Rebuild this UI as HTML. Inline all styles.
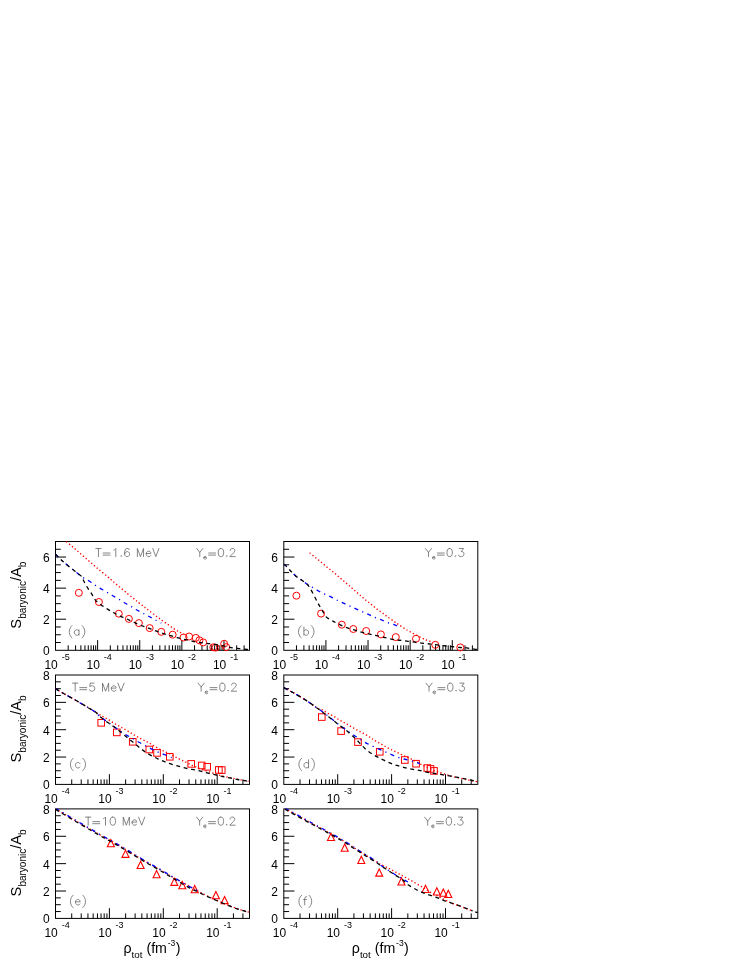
<!DOCTYPE html>
<html><head><meta charset="utf-8"><title>figure</title>
<style>html,body{margin:0;padding:0;background:#fff;}svg{will-change:transform;}svg text{font-family:"Liberation Sans",sans-serif;fill:#000;}</style></head>
<body>
<svg width="747" height="967" viewBox="0 0 747 967" style="display:block">
<rect width="747" height="967" fill="#fff"/>
<path d="M55.50 642.53h5.30M55.50 634.76h5.30M55.50 626.99h5.30M55.50 619.21h10.60M55.50 611.44h5.30M55.50 603.67h5.30M55.50 595.90h5.30M55.50 588.13h10.60M55.50 580.36h5.30M55.50 572.59h5.30M55.50 564.81h5.30M55.50 557.04h10.60M55.50 549.27h5.30M68.18 650.30v-5.00M75.60 650.30v-5.00M80.86 650.30v-5.00M84.94 650.30v-5.00M88.28 650.30v-5.00M91.10 650.30v-5.00M93.54 650.30v-5.00M95.69 650.30v-5.00M97.62 650.30v-10.20M110.30 650.30v-5.00M117.72 650.30v-5.00M122.98 650.30v-5.00M127.06 650.30v-5.00M130.40 650.30v-5.00M133.22 650.30v-5.00M135.66 650.30v-5.00M137.81 650.30v-5.00M139.74 650.30v-10.20M152.42 650.30v-5.00M159.84 650.30v-5.00M165.10 650.30v-5.00M169.18 650.30v-5.00M172.52 650.30v-5.00M175.34 650.30v-5.00M177.78 650.30v-5.00M179.93 650.30v-5.00M181.86 650.30v-10.20M194.54 650.30v-5.00M201.96 650.30v-5.00M207.22 650.30v-5.00M211.30 650.30v-5.00M214.64 650.30v-5.00M217.46 650.30v-5.00M219.90 650.30v-5.00M222.05 650.30v-5.00M223.98 650.30v-10.20M236.66 650.30v-5.00M244.08 650.30v-5.00" stroke="#000" stroke-width="1" fill="none"/><rect x="55.50" y="541.50" width="194.00" height="108.80" fill="none" stroke="#000" stroke-width="1"/>
<text x="49.60" y="655.30" text-anchor="end" font-size="12">0</text><text x="49.60" y="624.21" text-anchor="end" font-size="12">2</text><text x="49.60" y="593.13" text-anchor="end" font-size="12">4</text><text x="49.60" y="562.04" text-anchor="end" font-size="12">6</text><text x="57.80" y="669.00" text-anchor="end" font-size="12">10</text><text x="61.70" y="659.80" font-size="9">-5</text><text x="99.92" y="669.00" text-anchor="end" font-size="12">10</text><text x="103.82" y="659.80" font-size="9">-4</text><text x="142.04" y="669.00" text-anchor="end" font-size="12">10</text><text x="145.94" y="659.80" font-size="9">-3</text><text x="184.16" y="669.00" text-anchor="end" font-size="12">10</text><text x="188.06" y="659.80" font-size="9">-2</text><text x="226.28" y="669.00" text-anchor="end" font-size="12">10</text><text x="230.18" y="659.80" font-size="9">-1</text>
<path d="M283.80 642.53h5.30M283.80 634.76h5.30M283.80 626.99h5.30M283.80 619.21h10.60M283.80 611.44h5.30M283.80 603.67h5.30M283.80 595.90h5.30M283.80 588.13h10.60M283.80 580.36h5.30M283.80 572.59h5.30M283.80 564.81h5.30M283.80 557.04h10.60M283.80 549.27h5.30M296.48 650.30v-5.00M303.90 650.30v-5.00M309.16 650.30v-5.00M313.24 650.30v-5.00M316.58 650.30v-5.00M319.40 650.30v-5.00M321.84 650.30v-5.00M323.99 650.30v-5.00M325.92 650.30v-10.20M338.60 650.30v-5.00M346.02 650.30v-5.00M351.28 650.30v-5.00M355.36 650.30v-5.00M358.70 650.30v-5.00M361.52 650.30v-5.00M363.96 650.30v-5.00M366.11 650.30v-5.00M368.04 650.30v-10.20M380.72 650.30v-5.00M388.14 650.30v-5.00M393.40 650.30v-5.00M397.48 650.30v-5.00M400.82 650.30v-5.00M403.64 650.30v-5.00M406.08 650.30v-5.00M408.23 650.30v-5.00M410.16 650.30v-10.20M422.84 650.30v-5.00M430.26 650.30v-5.00M435.52 650.30v-5.00M439.60 650.30v-5.00M442.94 650.30v-5.00M445.76 650.30v-5.00M448.20 650.30v-5.00M450.35 650.30v-5.00M452.28 650.30v-10.20M464.96 650.30v-5.00M472.38 650.30v-5.00" stroke="#000" stroke-width="1" fill="none"/><rect x="283.80" y="541.50" width="194.00" height="108.80" fill="none" stroke="#000" stroke-width="1"/>
<text x="277.90" y="655.30" text-anchor="end" font-size="12">0</text><text x="277.90" y="624.21" text-anchor="end" font-size="12">2</text><text x="277.90" y="593.13" text-anchor="end" font-size="12">4</text><text x="277.90" y="562.04" text-anchor="end" font-size="12">6</text><text x="286.10" y="669.00" text-anchor="end" font-size="12">10</text><text x="290.00" y="659.80" font-size="9">-5</text><text x="328.22" y="669.00" text-anchor="end" font-size="12">10</text><text x="332.12" y="659.80" font-size="9">-4</text><text x="370.34" y="669.00" text-anchor="end" font-size="12">10</text><text x="374.24" y="659.80" font-size="9">-3</text><text x="412.46" y="669.00" text-anchor="end" font-size="12">10</text><text x="416.36" y="659.80" font-size="9">-2</text><text x="454.58" y="669.00" text-anchor="end" font-size="12">10</text><text x="458.48" y="659.80" font-size="9">-1</text>
<path d="M55.50 777.56h5.30M55.50 770.73h5.30M55.50 763.89h5.30M55.50 757.05h10.60M55.50 750.21h5.30M55.50 743.38h5.30M55.50 736.54h5.30M55.50 729.70h10.60M55.50 722.86h5.30M55.50 716.02h5.30M55.50 709.19h5.30M55.50 702.35h10.60M55.50 695.51h5.30M55.50 688.67h5.30M55.50 681.84h5.30M71.73 784.40v-5.00M81.22 784.40v-5.00M87.95 784.40v-5.00M93.17 784.40v-5.00M97.44 784.40v-5.00M101.05 784.40v-5.00M104.18 784.40v-5.00M106.93 784.40v-5.00M109.40 784.40v-10.20M125.63 784.40v-5.00M135.12 784.40v-5.00M141.85 784.40v-5.00M147.07 784.40v-5.00M151.34 784.40v-5.00M154.95 784.40v-5.00M158.08 784.40v-5.00M160.83 784.40v-5.00M163.30 784.40v-10.20M179.53 784.40v-5.00M189.02 784.40v-5.00M195.75 784.40v-5.00M200.97 784.40v-5.00M205.24 784.40v-5.00M208.85 784.40v-5.00M211.98 784.40v-5.00M214.73 784.40v-5.00M217.20 784.40v-10.20M233.43 784.40v-5.00M242.92 784.40v-5.00" stroke="#000" stroke-width="1" fill="none"/><rect x="55.50" y="675.00" width="194.00" height="109.40" fill="none" stroke="#000" stroke-width="1"/>
<text x="49.60" y="789.40" text-anchor="end" font-size="12">0</text><text x="49.60" y="762.05" text-anchor="end" font-size="12">2</text><text x="49.60" y="734.70" text-anchor="end" font-size="12">4</text><text x="49.60" y="707.35" text-anchor="end" font-size="12">6</text><text x="49.60" y="680.00" text-anchor="end" font-size="12">8</text><text x="57.80" y="803.10" text-anchor="end" font-size="12">10</text><text x="61.70" y="793.90" font-size="9">-4</text><text x="111.70" y="803.10" text-anchor="end" font-size="12">10</text><text x="115.60" y="793.90" font-size="9">-3</text><text x="165.60" y="803.10" text-anchor="end" font-size="12">10</text><text x="169.50" y="793.90" font-size="9">-2</text><text x="219.50" y="803.10" text-anchor="end" font-size="12">10</text><text x="223.40" y="793.90" font-size="9">-1</text>
<path d="M283.80 777.56h5.30M283.80 770.73h5.30M283.80 763.89h5.30M283.80 757.05h10.60M283.80 750.21h5.30M283.80 743.38h5.30M283.80 736.54h5.30M283.80 729.70h10.60M283.80 722.86h5.30M283.80 716.02h5.30M283.80 709.19h5.30M283.80 702.35h10.60M283.80 695.51h5.30M283.80 688.67h5.30M283.80 681.84h5.30M300.03 784.40v-5.00M309.52 784.40v-5.00M316.25 784.40v-5.00M321.47 784.40v-5.00M325.74 784.40v-5.00M329.35 784.40v-5.00M332.48 784.40v-5.00M335.23 784.40v-5.00M337.70 784.40v-10.20M353.93 784.40v-5.00M363.42 784.40v-5.00M370.15 784.40v-5.00M375.37 784.40v-5.00M379.64 784.40v-5.00M383.25 784.40v-5.00M386.38 784.40v-5.00M389.13 784.40v-5.00M391.60 784.40v-10.20M407.83 784.40v-5.00M417.32 784.40v-5.00M424.05 784.40v-5.00M429.27 784.40v-5.00M433.54 784.40v-5.00M437.15 784.40v-5.00M440.28 784.40v-5.00M443.03 784.40v-5.00M445.50 784.40v-10.20M461.73 784.40v-5.00M471.22 784.40v-5.00" stroke="#000" stroke-width="1" fill="none"/><rect x="283.80" y="675.00" width="194.00" height="109.40" fill="none" stroke="#000" stroke-width="1"/>
<text x="277.90" y="789.40" text-anchor="end" font-size="12">0</text><text x="277.90" y="762.05" text-anchor="end" font-size="12">2</text><text x="277.90" y="734.70" text-anchor="end" font-size="12">4</text><text x="277.90" y="707.35" text-anchor="end" font-size="12">6</text><text x="277.90" y="680.00" text-anchor="end" font-size="12">8</text><text x="286.10" y="803.10" text-anchor="end" font-size="12">10</text><text x="290.00" y="793.90" font-size="9">-4</text><text x="340.00" y="803.10" text-anchor="end" font-size="12">10</text><text x="343.90" y="793.90" font-size="9">-3</text><text x="393.90" y="803.10" text-anchor="end" font-size="12">10</text><text x="397.80" y="793.90" font-size="9">-2</text><text x="447.80" y="803.10" text-anchor="end" font-size="12">10</text><text x="451.70" y="793.90" font-size="9">-1</text>
<path d="M55.50 911.56h5.30M55.50 904.71h5.30M55.50 897.87h5.30M55.50 891.02h10.60M55.50 884.18h5.30M55.50 877.34h5.30M55.50 870.49h5.30M55.50 863.65h10.60M55.50 856.81h5.30M55.50 849.96h5.30M55.50 843.12h5.30M55.50 836.27h10.60M55.50 829.43h5.30M55.50 822.59h5.30M55.50 815.74h5.30M71.73 918.40v-5.00M81.22 918.40v-5.00M87.95 918.40v-5.00M93.17 918.40v-5.00M97.44 918.40v-5.00M101.05 918.40v-5.00M104.18 918.40v-5.00M106.93 918.40v-5.00M109.40 918.40v-10.20M125.63 918.40v-5.00M135.12 918.40v-5.00M141.85 918.40v-5.00M147.07 918.40v-5.00M151.34 918.40v-5.00M154.95 918.40v-5.00M158.08 918.40v-5.00M160.83 918.40v-5.00M163.30 918.40v-10.20M179.53 918.40v-5.00M189.02 918.40v-5.00M195.75 918.40v-5.00M200.97 918.40v-5.00M205.24 918.40v-5.00M208.85 918.40v-5.00M211.98 918.40v-5.00M214.73 918.40v-5.00M217.20 918.40v-10.20M233.43 918.40v-5.00M242.92 918.40v-5.00" stroke="#000" stroke-width="1" fill="none"/><rect x="55.50" y="808.90" width="194.00" height="109.50" fill="none" stroke="#000" stroke-width="1"/>
<text x="49.60" y="923.40" text-anchor="end" font-size="12">0</text><text x="49.60" y="896.02" text-anchor="end" font-size="12">2</text><text x="49.60" y="868.65" text-anchor="end" font-size="12">4</text><text x="49.60" y="841.27" text-anchor="end" font-size="12">6</text><text x="49.60" y="813.90" text-anchor="end" font-size="12">8</text><text x="57.80" y="937.10" text-anchor="end" font-size="12">10</text><text x="61.70" y="927.90" font-size="9">-4</text><text x="111.70" y="937.10" text-anchor="end" font-size="12">10</text><text x="115.60" y="927.90" font-size="9">-3</text><text x="165.60" y="937.10" text-anchor="end" font-size="12">10</text><text x="169.50" y="927.90" font-size="9">-2</text><text x="219.50" y="937.10" text-anchor="end" font-size="12">10</text><text x="223.40" y="927.90" font-size="9">-1</text>
<path d="M283.80 911.56h5.30M283.80 904.71h5.30M283.80 897.87h5.30M283.80 891.02h10.60M283.80 884.18h5.30M283.80 877.34h5.30M283.80 870.49h5.30M283.80 863.65h10.60M283.80 856.81h5.30M283.80 849.96h5.30M283.80 843.12h5.30M283.80 836.27h10.60M283.80 829.43h5.30M283.80 822.59h5.30M283.80 815.74h5.30M300.03 918.40v-5.00M309.52 918.40v-5.00M316.25 918.40v-5.00M321.47 918.40v-5.00M325.74 918.40v-5.00M329.35 918.40v-5.00M332.48 918.40v-5.00M335.23 918.40v-5.00M337.70 918.40v-10.20M353.93 918.40v-5.00M363.42 918.40v-5.00M370.15 918.40v-5.00M375.37 918.40v-5.00M379.64 918.40v-5.00M383.25 918.40v-5.00M386.38 918.40v-5.00M389.13 918.40v-5.00M391.60 918.40v-10.20M407.83 918.40v-5.00M417.32 918.40v-5.00M424.05 918.40v-5.00M429.27 918.40v-5.00M433.54 918.40v-5.00M437.15 918.40v-5.00M440.28 918.40v-5.00M443.03 918.40v-5.00M445.50 918.40v-10.20M461.73 918.40v-5.00M471.22 918.40v-5.00" stroke="#000" stroke-width="1" fill="none"/><rect x="283.80" y="808.90" width="194.00" height="109.50" fill="none" stroke="#000" stroke-width="1"/>
<text x="277.90" y="923.40" text-anchor="end" font-size="12">0</text><text x="277.90" y="896.02" text-anchor="end" font-size="12">2</text><text x="277.90" y="868.65" text-anchor="end" font-size="12">4</text><text x="277.90" y="841.27" text-anchor="end" font-size="12">6</text><text x="277.90" y="813.90" text-anchor="end" font-size="12">8</text><text x="286.10" y="937.10" text-anchor="end" font-size="12">10</text><text x="290.00" y="927.90" font-size="9">-4</text><text x="340.00" y="937.10" text-anchor="end" font-size="12">10</text><text x="343.90" y="927.90" font-size="9">-3</text><text x="393.90" y="937.10" text-anchor="end" font-size="12">10</text><text x="397.80" y="927.90" font-size="9">-2</text><text x="447.80" y="937.10" text-anchor="end" font-size="12">10</text><text x="451.70" y="927.90" font-size="9">-1</text>
<text transform="translate(21.4 595.10) rotate(-90)" text-anchor="middle" font-size="14.7">S<tspan font-size="10.0" dy="4.4">baryonic</tspan><tspan dy="-4.4">/A</tspan><tspan font-size="10.0" dy="4.4">b</tspan></text>
<text transform="translate(21.4 728.90) rotate(-90)" text-anchor="middle" font-size="14.7">S<tspan font-size="10.0" dy="4.4">baryonic</tspan><tspan dy="-4.4">/A</tspan><tspan font-size="10.0" dy="4.4">b</tspan></text>
<text transform="translate(21.4 862.85) rotate(-90)" text-anchor="middle" font-size="14.7">S<tspan font-size="10.0" dy="4.4">baryonic</tspan><tspan dy="-4.4">/A</tspan><tspan font-size="10.0" dy="4.4">b</tspan></text>
<text x="123.50" y="953.4" font-size="14.2">&#961;<tspan font-size="9.8" dy="4.8">tot</tspan><tspan dy="-4.8"> (fm</tspan><tspan font-size="8.6" dy="-7.4" dx="0.8">-3</tspan><tspan dy="7.4" dx="0.4">)</tspan></text>
<text x="351.80" y="953.4" font-size="14.2">&#961;<tspan font-size="9.8" dy="4.8">tot</tspan><tspan dy="-4.8"> (fm</tspan><tspan font-size="8.6" dy="-7.4" dx="0.8">-3</tspan><tspan dy="7.4" dx="0.4">)</tspan></text>
<defs><clipPath id="cpa"><rect x="55.50" y="541.00" width="194.00" height="109.80"/></clipPath><clipPath id="cpb"><rect x="283.80" y="541.00" width="194.00" height="109.80"/></clipPath><clipPath id="cpc"><rect x="55.50" y="674.50" width="194.00" height="110.40"/></clipPath><clipPath id="cpd"><rect x="283.80" y="674.50" width="194.00" height="110.40"/></clipPath><clipPath id="cpe"><rect x="55.50" y="808.40" width="194.00" height="110.50"/></clipPath><clipPath id="cpf"><rect x="283.80" y="808.40" width="194.00" height="110.50"/></clipPath></defs>
<g fill="none" stroke="#ff0000" stroke-width="1"><circle cx="78.84" cy="592.84" r="3.50"/><circle cx="98.90" cy="602.00" r="3.50"/><circle cx="118.80" cy="613.70" r="3.50"/><circle cx="128.90" cy="618.90" r="3.50"/><circle cx="138.90" cy="623.10" r="3.50"/><circle cx="149.70" cy="628.10" r="3.50"/><circle cx="161.30" cy="631.85" r="3.50"/><circle cx="172.65" cy="634.70" r="3.50"/><circle cx="183.50" cy="637.50" r="3.50"/><circle cx="189.10" cy="636.50" r="3.50"/><circle cx="195.80" cy="637.90" r="3.50"/><circle cx="199.40" cy="640.30" r="3.50"/><circle cx="203.20" cy="642.40" r="3.50"/><circle cx="213.30" cy="647.30" r="3.50"/><circle cx="215.60" cy="647.60" r="3.50"/><circle cx="224.15" cy="643.75" r="3.50"/><circle cx="226.20" cy="647.15" r="3.50"/></g>
<g clip-path="url(#cpa)">
<path d="M66.30 541.60 C67.67 542.73 71.73 546.03 74.50 548.40 C77.27 550.77 80.08 553.35 82.90 555.80 C85.72 558.25 88.65 560.73 91.40 563.10 C94.15 565.47 96.60 567.65 99.40 570.00 C102.20 572.35 105.82 575.20 108.20 577.20 C110.58 579.20 110.47 579.25 113.70 582.00 C116.93 584.75 123.43 590.27 127.60 593.70 C131.77 597.13 135.37 599.97 138.70 602.60 C142.03 605.23 144.65 607.23 147.60 609.50 C150.55 611.77 154.00 614.38 156.40 616.20 C158.80 618.02 159.98 618.95 162.00 620.40 C164.02 621.85 166.48 623.48 168.50 624.90 C170.52 626.32 172.23 627.70 174.10 628.90 C175.97 630.10 178.07 631.22 179.70 632.10 C181.33 632.98 183.20 633.85 183.90 634.20" fill="none" stroke="#ff0000" stroke-width="1.35" stroke-dasharray="1.3 2.34"/>
<path d="M55.40 554.10 C56.30 555.00 59.08 557.90 60.80 559.50 C62.52 561.10 63.95 562.22 65.70 563.70 C67.45 565.18 69.43 566.90 71.30 568.40 C73.17 569.90 75.10 571.27 76.90 572.70 C78.70 574.13 80.22 575.72 82.10 577.00 C83.98 578.28 86.22 579.15 88.20 580.40 C90.18 581.65 92.05 583.22 94.00 584.50 C95.95 585.78 97.92 586.93 99.90 588.10 C101.88 589.27 103.90 590.30 105.90 591.50 C107.90 592.70 109.90 594.12 111.90 595.30 C113.90 596.48 115.88 597.40 117.90 598.60 C119.92 599.80 122.00 601.30 124.00 602.50 C126.00 603.70 127.92 604.63 129.90 605.80 C131.88 606.97 133.90 608.35 135.90 609.50 C137.90 610.65 139.88 611.63 141.90 612.70 C143.92 613.77 145.93 614.80 148.00 615.90 C150.07 617.00 152.08 618.10 154.30 619.30 C156.52 620.50 160.13 622.47 161.30 623.10" fill="none" stroke="#0000ff" stroke-width="1.30" stroke-dasharray="4.1 4.35 1.2 4.35"/>
<path d="M55.40 554.10 C56.30 555.00 59.08 557.90 60.80 559.50 C62.52 561.10 63.95 562.22 65.70 563.70 C67.45 565.18 69.43 566.90 71.30 568.40 C73.17 569.90 75.10 571.27 76.90 572.70 C78.70 574.13 80.90 575.48 82.10 577.00 C83.30 578.52 83.15 579.95 84.10 581.80 C85.05 583.65 86.52 586.05 87.80 588.10 C89.08 590.15 90.53 592.10 91.80 594.10 C93.07 596.10 93.85 598.30 95.40 600.10 C96.95 601.90 99.08 603.40 101.10 604.90 C103.12 606.40 105.45 607.83 107.50 609.10 C109.55 610.37 111.27 611.33 113.40 612.50 C115.53 613.67 118.08 615.03 120.30 616.10 C122.52 617.17 124.57 617.93 126.70 618.90 C128.83 619.87 130.83 620.87 133.10 621.90 C135.37 622.93 137.88 624.10 140.30 625.10 C142.72 626.10 145.32 627.05 147.60 627.90 C149.88 628.75 151.80 629.42 154.00 630.20 C156.20 630.98 158.52 631.82 160.80 632.60 C163.08 633.38 165.35 634.18 167.70 634.90 C170.05 635.62 172.50 636.23 174.90 636.90 C177.30 637.57 179.68 638.30 182.10 638.90 C184.52 639.50 186.98 639.97 189.40 640.50 C191.82 641.03 194.33 641.70 196.60 642.10 C198.87 642.50 200.85 642.63 203.00 642.90 C205.15 643.17 206.82 643.33 209.50 643.70 C212.18 644.07 216.43 644.67 219.10 645.10 C221.77 645.53 223.22 645.83 225.50 646.30 C227.78 646.77 230.38 647.50 232.80 647.90 C235.22 648.30 237.60 648.43 240.00 648.70 C242.40 648.97 245.60 649.33 247.20 649.50 C248.80 649.67 249.20 649.67 249.60 649.70" fill="none" stroke="#000" stroke-width="1.30" stroke-dasharray="3.9 3.7"/>
</g>
<g fill="none" stroke="#ff0000" stroke-width="1"><circle cx="296.40" cy="595.70" r="3.50"/><circle cx="321.05" cy="613.60" r="3.50"/><circle cx="341.80" cy="624.70" r="3.50"/><circle cx="353.30" cy="629.00" r="3.50"/><circle cx="366.20" cy="631.00" r="3.50"/><circle cx="380.90" cy="634.40" r="3.50"/><circle cx="395.80" cy="637.10" r="3.50"/><circle cx="416.00" cy="638.70" r="3.50"/><circle cx="435.25" cy="644.85" r="3.50"/><circle cx="460.30" cy="647.40" r="3.50"/></g>
<g clip-path="url(#cpb)">
<path d="M309.70 552.80 C310.63 553.57 313.42 555.87 315.30 557.40 C317.18 558.93 319.12 560.45 321.00 562.00 C322.88 563.55 324.73 565.18 326.60 566.70 C328.47 568.22 330.33 569.57 332.20 571.10 C334.07 572.63 335.93 574.28 337.80 575.90 C339.67 577.52 341.53 579.18 343.40 580.80 C345.27 582.42 347.13 584.00 349.00 585.60 C350.87 587.20 352.80 588.85 354.60 590.40 C356.40 591.95 357.92 593.27 359.80 594.90 C361.68 596.53 363.95 598.58 365.90 600.20 C367.85 601.82 369.62 603.08 371.50 604.60 C373.38 606.12 375.25 607.82 377.20 609.30 C379.15 610.78 381.27 612.08 383.20 613.50 C385.13 614.92 386.93 616.45 388.80 617.80 C390.67 619.15 392.88 620.55 394.40 621.60 C395.92 622.65 396.32 623.02 397.90 624.10 C399.48 625.18 401.90 626.83 403.90 628.10 C405.90 629.37 406.90 630.03 409.90 631.70 C412.90 633.37 418.95 636.63 421.90 638.10 C424.85 639.57 425.82 639.82 427.60 640.50 C429.38 641.18 431.77 641.92 432.60 642.20" fill="none" stroke="#ff0000" stroke-width="1.35" stroke-dasharray="1.3 2.34"/>
<path d="M283.70 564.30 C284.08 564.57 284.88 564.83 286.00 565.90 C287.12 566.97 288.78 569.03 290.40 570.70 C292.02 572.37 293.88 574.37 295.70 575.90 C297.52 577.43 299.38 578.52 301.30 579.90 C303.22 581.28 305.27 582.92 307.20 584.20 C309.13 585.48 310.95 586.43 312.90 587.60 C314.85 588.77 316.83 590.05 318.90 591.20 C320.97 592.35 323.17 593.48 325.30 594.50 C327.43 595.52 329.62 596.30 331.70 597.30 C333.78 598.30 335.72 599.48 337.80 600.50 C339.88 601.52 342.06 602.46 344.20 603.45 C346.34 604.44 348.51 605.46 350.65 606.45 C352.79 607.44 354.91 608.42 357.05 609.40 C359.19 610.38 361.43 611.38 363.50 612.30 C365.57 613.22 367.42 613.97 369.50 614.90 C371.58 615.83 373.78 616.97 376.00 617.90 C378.22 618.83 380.62 619.63 382.80 620.50 C384.98 621.37 386.93 622.30 389.10 623.10 C391.27 623.90 393.83 624.62 395.80 625.30 C397.77 625.98 400.05 626.88 400.90 627.20" fill="none" stroke="#0000ff" stroke-width="1.30" stroke-dasharray="4.1 4.35 1.2 4.35"/>
<path d="M283.70 564.30 C284.08 564.57 284.88 564.83 286.00 565.90 C287.12 566.97 288.78 569.03 290.40 570.70 C292.02 572.37 293.88 574.37 295.70 575.90 C297.52 577.43 299.38 578.52 301.30 579.90 C303.22 581.28 305.68 582.72 307.20 584.20 C308.72 585.68 309.12 586.62 310.40 588.80 C311.68 590.98 313.55 594.75 314.90 597.30 C316.25 599.85 317.37 602.10 318.50 604.10 C319.63 606.10 320.50 607.23 321.70 609.30 C322.90 611.37 324.10 614.68 325.70 616.50 C327.30 618.32 329.43 619.08 331.30 620.20 C333.17 621.32 334.55 622.05 336.90 623.20 C339.25 624.35 341.70 625.72 345.40 627.10 C349.10 628.48 354.53 630.22 359.10 631.50 C363.67 632.78 368.18 633.72 372.80 634.80 C377.42 635.88 383.17 637.18 386.80 638.00 C390.43 638.82 392.08 639.28 394.60 639.70 C397.12 640.12 399.62 640.23 401.90 640.50 C404.18 640.77 405.90 640.97 408.30 641.30 C410.70 641.63 413.75 642.17 416.30 642.50 C418.85 642.83 421.18 643.03 423.60 643.30 C426.02 643.57 428.53 643.83 430.80 644.10 C433.07 644.37 434.33 644.55 437.20 644.90 C440.07 645.25 444.15 645.77 448.00 646.20 C451.85 646.63 457.17 647.22 460.30 647.50 C463.43 647.78 464.52 647.63 466.80 647.90 C469.08 648.17 472.18 648.85 474.00 649.10 C475.82 649.35 477.08 649.35 477.70 649.40" fill="none" stroke="#000" stroke-width="1.30" stroke-dasharray="3.9 3.7"/>
</g>
<g fill="none" stroke="#ff0000" stroke-width="1"><rect x="97.90" y="719.50" width="6.60" height="6.60"/><rect x="113.50" y="729.10" width="6.60" height="6.60"/><rect x="129.45" y="738.50" width="6.60" height="6.60"/><rect x="146.00" y="746.20" width="6.60" height="6.60"/><rect x="153.75" y="749.60" width="6.60" height="6.60"/><rect x="166.50" y="753.50" width="6.60" height="6.60"/><rect x="187.90" y="760.60" width="6.60" height="6.60"/><rect x="198.40" y="762.15" width="6.60" height="6.60"/><rect x="203.90" y="763.50" width="6.60" height="6.60"/><rect x="215.55" y="766.60" width="6.60" height="6.60"/><rect x="218.45" y="766.80" width="6.60" height="6.60"/></g>
<g clip-path="url(#cpc)">
<path d="M55.40 688.60 C56.83 689.45 60.55 691.72 64.00 693.70 C67.45 695.68 72.08 698.18 76.10 700.50 C80.12 702.82 84.82 705.63 88.10 707.60 C91.38 709.57 93.45 710.87 95.80 712.30 C98.15 713.73 100.05 714.93 102.20 716.20 C104.35 717.47 106.55 718.62 108.70 719.90 C110.85 721.18 112.97 722.63 115.10 723.90 C117.23 725.17 119.37 726.30 121.50 727.50 C123.63 728.70 125.75 729.83 127.90 731.10 C130.05 732.37 132.25 733.83 134.40 735.10 C136.55 736.37 138.67 737.57 140.80 738.70 C142.93 739.83 145.25 740.85 147.20 741.90 C149.15 742.95 150.58 743.87 152.50 745.00 C154.42 746.13 156.67 747.62 158.70 748.70 C160.73 749.78 162.70 750.57 164.70 751.50 C166.70 752.43 168.63 753.23 170.70 754.30 C172.77 755.37 174.95 756.77 177.10 757.90 C179.25 759.03 181.98 760.30 183.60 761.10 C185.22 761.90 185.33 761.97 186.80 762.70 C188.27 763.43 189.87 764.38 192.40 765.50 C194.93 766.62 198.75 768.18 202.00 769.40 C205.25 770.62 209.05 771.83 211.90 772.80 C214.75 773.77 216.03 774.38 219.10 775.20 C222.17 776.02 227.22 777.02 230.30 777.70 C233.38 778.38 235.18 778.82 237.60 779.30 C240.02 779.78 242.97 780.27 244.80 780.60 C246.63 780.93 247.97 781.18 248.60 781.30" fill="none" stroke="#ff0000" stroke-width="1.35" stroke-dasharray="1.3 2.34"/>
<path d="M55.40 688.60 C56.83 689.45 60.55 691.72 64.00 693.70 C67.45 695.68 72.08 698.18 76.10 700.50 C80.12 702.82 84.82 705.63 88.10 707.60 C91.38 709.57 93.98 710.97 95.80 712.30 C97.62 713.63 97.40 714.23 99.00 715.60 C100.60 716.97 103.38 719.00 105.40 720.50 C107.42 722.00 109.22 723.25 111.10 724.60 C112.98 725.95 114.83 727.27 116.70 728.60 C118.57 729.93 120.43 731.38 122.30 732.60 C124.17 733.82 126.02 734.82 127.90 735.90 C129.78 736.98 131.58 737.95 133.60 739.10 C135.62 740.25 137.90 741.63 140.00 742.80 C142.10 743.97 144.13 745.00 146.20 746.10 C148.27 747.20 150.32 748.37 152.40 749.40 C154.48 750.43 156.65 751.42 158.70 752.30 C160.75 753.18 162.50 753.80 164.70 754.70 C166.90 755.60 170.70 757.20 171.90 757.70" fill="none" stroke="#0000ff" stroke-width="1.30" stroke-dasharray="4.1 4.35 1.2 4.35"/>
<path d="M55.40 688.60 C56.83 689.45 60.55 691.72 64.00 693.70 C67.45 695.68 72.08 698.18 76.10 700.50 C80.12 702.82 84.82 705.63 88.10 707.60 C91.38 709.57 93.98 710.92 95.80 712.30 C97.62 713.68 97.40 714.48 99.00 715.90 C100.60 717.32 103.38 719.32 105.40 720.80 C107.42 722.28 109.22 723.45 111.10 724.80 C112.98 726.15 114.83 727.45 116.70 728.90 C118.57 730.35 120.30 731.87 122.30 733.50 C124.30 735.13 126.55 736.95 128.70 738.70 C130.85 740.45 133.18 742.35 135.20 744.00 C137.22 745.65 139.03 747.22 140.80 748.60 C142.57 749.98 143.83 751.02 145.80 752.30 C147.77 753.58 150.32 755.10 152.60 756.30 C154.88 757.50 157.28 758.50 159.50 759.50 C161.72 760.50 163.63 761.43 165.90 762.30 C168.17 763.17 170.70 763.97 173.10 764.70 C175.50 765.43 177.88 766.03 180.30 766.70 C182.72 767.37 185.15 768.15 187.60 768.70 C190.05 769.25 192.57 769.53 195.00 770.00 C197.43 770.47 199.78 770.92 202.20 771.50 C204.62 772.08 207.08 772.90 209.50 773.50 C211.92 774.10 214.43 774.57 216.70 775.10 C218.97 775.63 220.83 776.23 223.10 776.70 C225.37 777.17 227.88 777.43 230.30 777.90 C232.72 778.37 235.18 779.03 237.60 779.50 C240.02 779.97 242.97 780.38 244.80 780.70 C246.63 781.02 247.97 781.28 248.60 781.40" fill="none" stroke="#000" stroke-width="1.30" stroke-dasharray="3.9 3.7"/>
</g>
<g fill="none" stroke="#ff0000" stroke-width="1"><rect x="318.50" y="713.75" width="6.60" height="6.60"/><rect x="337.80" y="727.80" width="6.60" height="6.60"/><rect x="354.70" y="738.80" width="6.60" height="6.60"/><rect x="376.45" y="748.50" width="6.60" height="6.60"/><rect x="401.50" y="756.70" width="6.60" height="6.60"/><rect x="412.80" y="760.40" width="6.60" height="6.60"/><rect x="424.00" y="764.75" width="6.60" height="6.60"/><rect x="427.20" y="765.60" width="6.60" height="6.60"/><rect x="430.70" y="767.60" width="6.60" height="6.60"/></g>
<g clip-path="url(#cpd)">
<path d="M283.90 687.70 C285.52 688.57 290.02 690.83 293.65 692.90 C297.28 694.97 301.96 697.70 305.70 700.10 C309.44 702.50 313.48 705.75 316.10 707.30 C318.72 708.85 319.51 708.45 321.40 709.40 C323.29 710.35 325.43 711.86 327.45 713.00 C329.47 714.14 331.43 715.03 333.50 716.25 C335.57 717.47 337.83 719.09 339.90 720.30 C341.97 721.51 343.90 722.37 345.90 723.50 C347.90 724.63 349.82 725.90 351.90 727.10 C353.98 728.30 356.32 729.57 358.40 730.70 C360.48 731.83 362.40 732.77 364.40 733.90 C366.40 735.03 368.83 736.50 370.40 737.50 C371.97 738.50 372.32 738.98 373.80 739.90 C375.28 740.82 377.45 741.94 379.30 743.00 C381.15 744.06 382.97 745.17 384.90 746.25 C386.83 747.33 388.90 748.49 390.90 749.50 C392.90 750.51 394.95 751.37 396.90 752.30 C398.85 753.23 400.72 754.23 402.60 755.10 C404.48 755.97 406.20 756.57 408.20 757.50 C410.20 758.43 412.57 759.62 414.60 760.70 C416.63 761.78 418.33 762.88 420.40 764.00 C422.47 765.12 424.73 766.32 427.00 767.40 C429.27 768.48 431.82 769.62 434.00 770.50 C436.18 771.38 438.22 772.07 440.10 772.70 C441.98 773.33 443.75 773.83 445.30 774.30 C446.85 774.77 447.85 775.03 449.40 775.50 C450.95 775.97 452.60 776.63 454.60 777.10 C456.60 777.57 459.20 777.83 461.40 778.30 C463.60 778.77 465.08 779.33 467.80 779.90 C470.52 780.47 476.05 781.40 477.70 781.70" fill="none" stroke="#ff0000" stroke-width="1.35" stroke-dasharray="1.3 2.34"/>
<path d="M283.90 687.70 C285.52 688.57 290.02 690.83 293.65 692.90 C297.28 694.97 301.96 697.70 305.70 700.10 C309.44 702.50 313.22 705.30 316.10 707.30 C318.98 709.30 320.91 710.57 323.00 712.10 C325.09 713.63 326.77 715.02 328.65 716.50 C330.53 717.98 332.43 719.52 334.30 721.00 C336.18 722.48 338.03 724.00 339.90 725.40 C341.77 726.80 343.63 728.05 345.50 729.40 C347.37 730.75 349.22 732.22 351.10 733.50 C352.98 734.78 354.88 735.87 356.80 737.10 C358.72 738.33 360.60 739.70 362.60 740.90 C364.60 742.10 366.68 743.20 368.80 744.30 C370.92 745.40 373.15 746.50 375.30 747.50 C377.45 748.50 379.63 749.40 381.70 750.30 C383.77 751.20 385.57 751.97 387.70 752.90 C389.83 753.83 392.28 755.00 394.50 755.90 C396.72 756.80 398.85 757.63 401.00 758.30 C403.15 758.97 405.15 759.30 407.40 759.90 C409.65 760.50 412.43 761.28 414.50 761.90 C416.57 762.52 418.92 763.32 419.80 763.60" fill="none" stroke="#0000ff" stroke-width="1.30" stroke-dasharray="4.1 4.35 1.2 4.35"/>
<path d="M283.90 687.70 C285.52 688.57 290.02 690.83 293.65 692.90 C297.28 694.97 301.96 697.70 305.70 700.10 C309.44 702.50 313.22 705.25 316.10 707.30 C318.98 709.35 320.91 710.82 323.00 712.40 C325.09 713.98 326.77 715.32 328.65 716.80 C330.53 718.28 332.43 719.82 334.30 721.30 C336.18 722.78 338.03 724.28 339.90 725.70 C341.77 727.12 343.63 728.30 345.50 729.80 C347.37 731.30 349.35 733.15 351.10 734.70 C352.85 736.25 354.38 737.50 356.00 739.10 C357.62 740.70 359.07 742.50 360.80 744.30 C362.53 746.10 364.53 748.30 366.40 749.90 C368.27 751.50 369.98 752.63 372.00 753.90 C374.02 755.17 376.35 756.37 378.50 757.50 C380.65 758.63 382.63 759.63 384.90 760.70 C387.17 761.77 389.82 763.03 392.10 763.90 C394.38 764.77 396.32 765.23 398.60 765.90 C400.88 766.57 403.40 767.32 405.80 767.90 C408.20 768.48 410.57 768.93 413.00 769.40 C415.43 769.87 417.95 770.22 420.40 770.70 C422.85 771.18 425.28 771.83 427.70 772.30 C430.12 772.77 432.50 773.10 434.90 773.50 C437.30 773.90 439.68 774.30 442.10 774.70 C444.52 775.10 446.98 775.50 449.40 775.90 C451.82 776.30 454.20 776.63 456.60 777.10 C459.00 777.57 461.60 778.23 463.80 778.70 C466.00 779.17 467.48 779.38 469.80 779.90 C472.12 780.42 476.38 781.48 477.70 781.80" fill="none" stroke="#000" stroke-width="1.30" stroke-dasharray="3.9 3.7"/>
</g>
<g fill="none" stroke="#ff0000" stroke-width="1.1"><path d="M110.85 839.55 L114.35 846.75 L107.35 846.75 Z"/><path d="M125.50 850.15 L129.00 857.35 L122.00 857.35 Z"/><path d="M140.60 861.35 L144.10 868.55 L137.10 868.55 Z"/><path d="M156.60 870.55 L160.10 877.75 L153.10 877.75 Z"/><path d="M174.30 878.15 L177.80 885.35 L170.80 885.35 Z"/><path d="M182.30 881.55 L185.80 888.75 L178.80 888.75 Z"/><path d="M194.70 885.55 L198.20 892.75 L191.20 892.75 Z"/><path d="M215.90 891.55 L219.40 898.75 L212.40 898.75 Z"/><path d="M224.60 896.45 L228.10 903.65 L221.10 903.65 Z"/></g>
<g clip-path="url(#cpe)">
<path d="M55.50 808.70 C58.93 810.75 68.67 816.62 76.10 821.00 C83.53 825.38 94.48 831.78 100.10 835.00 C105.72 838.22 105.80 838.03 109.80 840.30 C113.80 842.57 117.97 844.95 124.10 848.60 C130.23 852.25 140.65 858.70 146.60 862.20 C152.55 865.70 155.88 867.33 159.80 869.60 C163.72 871.87 165.30 873.10 170.10 875.80 C174.90 878.50 183.78 883.17 188.60 885.80 C193.42 888.43 195.52 889.73 199.00 891.60 C202.48 893.47 205.88 895.27 209.50 897.00 C213.12 898.73 217.10 900.43 220.70 902.00 C224.30 903.57 227.88 905.13 231.10 906.40 C234.32 907.67 237.02 908.63 240.00 909.60 C242.98 910.57 247.50 911.77 249.00 912.20" fill="none" stroke="#ff0000" stroke-width="1.35" stroke-dasharray="1.3 2.34"/>
<path d="M55.50 808.20 C58.93 810.25 68.67 816.12 76.10 820.50 C83.53 824.88 94.48 831.28 100.10 834.50 C105.72 837.72 105.80 837.53 109.80 839.80 C113.80 842.07 117.97 844.45 124.10 848.10 C130.23 851.75 140.65 858.20 146.60 861.70 C152.55 865.20 155.88 866.83 159.80 869.10 C163.72 871.37 165.30 872.48 170.10 875.30 C174.90 878.12 183.63 883.25 188.60 886.00 C193.57 888.75 198.02 890.83 199.90 891.80" fill="none" stroke="#0000ff" stroke-width="1.30" stroke-dasharray="4.1 4.35 1.2 4.35"/>
<path d="M55.50 809.40 C58.93 811.45 68.67 817.32 76.10 821.70 C83.53 826.08 94.48 832.48 100.10 835.70 C105.72 838.92 105.80 838.73 109.80 841.00 C113.80 843.27 117.97 845.65 124.10 849.30 C130.23 852.95 140.65 859.40 146.60 862.90 C152.55 866.40 155.88 868.03 159.80 870.30 C163.72 872.57 165.30 873.65 170.10 876.50 C174.90 879.35 183.78 884.75 188.60 887.40 C193.42 890.05 195.52 890.72 199.00 892.40 C202.48 894.08 205.88 895.85 209.50 897.50 C213.12 899.15 217.10 900.78 220.70 902.30 C224.30 903.82 227.88 905.35 231.10 906.60 C234.32 907.85 237.02 908.85 240.00 909.80 C242.98 910.75 247.50 911.88 249.00 912.30" fill="none" stroke="#000" stroke-width="1.30" stroke-dasharray="3.9 3.7"/>
</g>
<g fill="none" stroke="#ff0000" stroke-width="1.1"><path d="M331.00 833.35 L334.50 840.55 L327.50 840.55 Z"/><path d="M344.70 844.05 L348.20 851.25 L341.20 851.25 Z"/><path d="M361.30 856.35 L364.80 863.55 L357.80 863.55 Z"/><path d="M379.20 868.95 L382.70 876.15 L375.70 876.15 Z"/><path d="M401.45 877.75 L404.95 884.95 L397.95 884.95 Z"/><path d="M425.50 885.35 L429.00 892.55 L422.00 892.55 Z"/><path d="M436.80 887.85 L440.30 895.05 L433.30 895.05 Z"/><path d="M443.30 889.05 L446.80 896.25 L439.80 896.25 Z"/><path d="M448.30 890.25 L451.80 897.45 L444.80 897.45 Z"/></g>
<g clip-path="url(#cpf)">
<path d="M285.00 808.50 C288.18 810.28 298.92 816.33 304.10 819.20 C309.28 822.07 311.78 823.35 316.10 825.70 C320.42 828.05 325.68 830.90 330.00 833.30 C334.32 835.70 338.03 837.68 342.05 840.10 C346.07 842.52 350.09 845.25 354.10 847.80 C358.11 850.35 362.08 852.87 366.10 855.40 C370.12 857.93 375.88 861.53 378.20 863.00 C380.52 864.47 378.37 863.38 380.00 864.20 C381.63 865.02 385.32 866.55 388.00 867.90 C390.68 869.25 393.42 870.83 396.10 872.30 C398.78 873.77 401.43 875.23 404.10 876.70 C406.77 878.17 409.42 879.57 412.10 881.10 C414.78 882.63 418.05 884.63 420.20 885.90 C422.35 887.17 423.27 887.63 425.00 888.70 C426.73 889.77 428.60 891.15 430.60 892.30 C432.60 893.45 434.85 894.45 437.00 895.60 C439.15 896.75 441.08 897.97 443.50 899.20 C445.92 900.43 448.83 901.88 451.50 903.00 C454.17 904.12 456.95 904.95 459.50 905.90 C462.05 906.85 464.62 907.88 466.80 908.70 C468.98 909.52 471.63 910.45 472.60 910.80" fill="none" stroke="#ff0000" stroke-width="1.35" stroke-dasharray="1.3 2.34"/>
<path d="M285.00 808.00 C288.18 809.78 298.92 815.83 304.10 818.70 C309.28 821.57 311.78 822.85 316.10 825.20 C320.42 827.55 325.68 830.40 330.00 832.80 C334.32 835.20 338.03 837.18 342.05 839.60 C346.07 842.02 350.09 844.75 354.10 847.30 C358.11 849.85 362.08 852.37 366.10 854.90 C370.12 857.43 375.88 860.87 378.20 862.50 C380.52 864.13 378.37 863.45 380.00 864.70 C381.63 865.95 385.32 868.25 388.00 870.00 C390.68 871.75 393.82 873.80 396.10 875.20 C398.38 876.60 399.73 877.27 401.70 878.40 C403.67 879.53 406.87 881.40 407.90 882.00" fill="none" stroke="#0000ff" stroke-width="1.30" stroke-dasharray="4.1 4.35 1.2 4.35"/>
<path d="M285.00 809.20 C288.18 810.98 298.92 817.03 304.10 819.90 C309.28 822.77 311.78 824.05 316.10 826.40 C320.42 828.75 325.68 831.60 330.00 834.00 C334.32 836.40 338.03 838.38 342.05 840.80 C346.07 843.22 350.09 845.95 354.10 848.50 C358.11 851.05 362.08 853.57 366.10 856.10 C370.12 858.63 375.88 862.18 378.20 863.70 C380.52 865.22 378.37 864.08 380.00 865.20 C381.63 866.32 385.32 868.67 388.00 870.40 C390.68 872.13 393.82 874.18 396.10 875.60 C398.38 877.02 400.22 877.83 401.70 878.90 C403.18 879.97 403.80 880.93 405.00 882.00 C406.20 883.07 407.05 884.05 408.90 885.30 C410.75 886.55 413.68 888.25 416.10 889.50 C418.52 890.75 420.85 891.77 423.40 892.80 C425.95 893.83 428.67 894.73 431.40 895.70 C434.13 896.67 437.78 897.83 439.80 898.60 C441.82 899.37 441.55 899.55 443.50 900.30 C445.45 901.05 448.83 902.17 451.50 903.10 C454.17 904.03 456.95 904.97 459.50 905.90 C462.05 906.83 464.62 907.87 466.80 908.70 C468.98 909.53 471.63 910.53 472.60 910.90" fill="none" stroke="#000" stroke-width="1.30" stroke-dasharray="3.9 3.7"/>
</g>
<path d="M475.3 912.0L477.7 912.6" stroke="#000" stroke-width="1.3" fill="none"/>
<g fill="none" stroke="#5e5e5e" stroke-width="0.75" stroke-linecap="round" stroke-linejoin="round"><polyline points="98.48,548.51 98.48,556.60"/><polyline points="95.79,548.51 101.18,548.51"/><polyline points="103.10,553.02 110.03,553.02"/><polyline points="103.10,555.10 110.03,555.10"/><polyline points="113.88,550.06 114.65,549.67 115.81,548.51 115.81,556.60"/><polyline points="121.20,555.83 120.81,556.22 121.20,556.60 121.58,556.22 121.20,555.83"/><polyline points="129.28,549.67 128.90,548.90 127.74,548.51 126.97,548.51 125.81,548.90 125.05,550.06 124.66,551.98 124.66,553.90 125.05,555.45 125.81,556.22 126.97,556.60 127.36,556.60 128.51,556.22 129.28,555.45 129.66,554.29 129.66,553.90 129.28,552.75 128.51,551.98 127.36,551.60 126.97,551.60 125.81,551.98 125.05,552.75 124.66,553.90"/><polyline points="137.36,556.60 137.36,548.51 140.44,556.60 143.52,548.51 143.52,556.60"/><polyline points="146.22,553.52 150.84,553.52 150.84,552.75 150.45,551.98 150.07,551.60 149.30,551.21 148.15,551.21 147.38,551.60 146.60,552.37 146.22,553.52 146.22,554.29 146.60,555.45 147.38,556.22 148.15,556.60 149.30,556.60 150.07,556.22 150.84,555.45"/><polyline points="152.76,548.51 155.84,556.60 158.92,548.51"/><polyline points="196.69,548.51 199.77,552.37 199.77,556.60"/><polyline points="202.84,548.51 199.77,552.37"/><polyline points="203.84,557.57 206.29,557.57 206.29,557.16 206.09,556.75 205.88,556.55 205.47,556.34 204.86,556.34 204.45,556.55 204.05,556.96 203.84,557.57 203.84,557.98 204.05,558.59 204.45,559.00 204.86,559.20 205.47,559.20 205.88,559.00 206.29,558.59"/><polyline points="208.65,553.02 215.58,553.02"/><polyline points="208.65,555.10 215.58,555.10"/><polyline points="220.58,548.51 219.43,548.90 218.66,550.06 218.27,551.98 218.27,553.13 218.66,555.06 219.43,556.22 220.58,556.60 221.35,556.60 222.51,556.22 223.28,555.06 223.66,553.13 223.66,551.98 223.28,550.06 222.51,548.90 221.35,548.51 220.58,548.51"/><polyline points="226.74,555.83 226.36,556.22 226.74,556.60 227.13,556.22 226.74,555.83"/><polyline points="230.21,550.44 230.21,550.06 230.59,549.28 230.98,548.90 231.75,548.51 233.29,548.51 234.06,548.90 234.44,549.28 234.83,550.06 234.83,550.83 234.44,551.60 233.67,552.75 229.82,556.60 235.21,556.60"/><polyline points="425.38,548.51 428.46,552.37 428.46,556.60"/><polyline points="431.55,548.51 428.46,552.37"/><polyline points="432.54,557.57 434.99,557.57 434.99,557.16 434.79,556.75 434.58,556.55 434.17,556.34 433.56,556.34 433.15,556.55 432.75,556.96 432.54,557.57 432.54,557.98 432.75,558.59 433.15,559.00 433.56,559.20 434.17,559.20 434.58,559.00 434.99,558.59"/><polyline points="437.35,553.02 444.28,553.02"/><polyline points="437.35,555.10 444.28,555.10"/><polyline points="449.28,548.51 448.13,548.90 447.36,550.06 446.97,551.98 446.97,553.13 447.36,555.06 448.13,556.22 449.28,556.60 450.05,556.60 451.21,556.22 451.98,555.06 452.36,553.13 452.36,551.98 451.98,550.06 451.21,548.90 450.05,548.51 449.28,548.51"/><polyline points="455.44,555.83 455.06,556.22 455.44,556.60 455.83,556.22 455.44,555.83"/><polyline points="459.29,548.51 463.53,548.51 461.22,551.60 462.37,551.60 463.14,551.98 463.53,552.37 463.91,553.52 463.91,554.29 463.53,555.45 462.76,556.22 461.60,556.60 460.45,556.60 459.29,556.22 458.91,555.83 458.52,555.06"/><polyline points="72.03,625.58 71.27,626.35 70.50,627.50 69.72,629.04 69.34,630.97 69.34,632.50 69.72,634.43 70.50,635.97 71.27,637.12 72.03,637.90"/><polyline points="78.97,629.81 78.97,635.20"/><polyline points="78.97,630.97 78.19,630.20 77.42,629.81 76.27,629.81 75.50,630.20 74.73,630.97 74.34,632.12 74.34,632.89 74.73,634.05 75.50,634.82 76.27,635.20 77.42,635.20 78.19,634.82 78.97,634.05"/><polyline points="82.05,625.58 82.81,626.35 83.59,627.50 84.36,629.04 84.74,630.97 84.74,632.50 84.36,634.43 83.59,635.97 82.81,637.12 82.05,637.90"/><polyline points="301.24,625.58 300.46,626.35 299.69,627.50 298.93,629.04 298.54,630.97 298.54,632.50 298.93,634.43 299.69,635.97 300.46,637.12 301.24,637.90"/><polyline points="303.93,627.12 303.93,635.20"/><polyline points="303.93,630.97 304.70,630.20 305.47,629.81 306.62,629.81 307.39,630.20 308.16,630.97 308.55,632.12 308.55,632.89 308.16,634.05 307.39,634.82 306.62,635.20 305.47,635.20 304.70,634.82 303.93,634.05"/><polyline points="311.24,625.58 312.01,626.35 312.78,627.50 313.55,629.04 313.94,630.97 313.94,632.50 313.55,634.43 312.78,635.97 312.01,637.12 311.24,637.90"/><polyline points="75.18,683.12 75.18,691.20"/><polyline points="72.48,683.12 77.88,683.12"/><polyline points="79.80,687.62 86.73,687.62"/><polyline points="79.80,689.70 86.73,689.70"/><polyline points="94.05,683.12 90.19,683.12 89.81,686.58 90.19,686.20 91.35,685.81 92.50,685.81 93.66,686.20 94.43,686.97 94.81,688.12 94.81,688.89 94.43,690.05 93.66,690.82 92.50,691.20 91.35,691.20 90.19,690.82 89.81,690.43 89.42,689.66"/><polyline points="102.52,691.20 102.52,683.12 105.59,691.20 108.67,683.12 108.67,691.20"/><polyline points="111.37,688.12 115.99,688.12 115.99,687.35 115.60,686.58 115.22,686.20 114.45,685.81 113.29,685.81 112.52,686.20 111.75,686.97 111.37,688.12 111.37,688.89 111.75,690.05 112.52,690.82 113.29,691.20 114.45,691.20 115.22,690.82 115.99,690.05"/><polyline points="117.91,683.12 120.99,691.20 124.07,683.12"/><polyline points="198.08,683.12 201.16,686.97 201.16,691.20"/><polyline points="204.24,683.12 201.16,686.97"/><polyline points="205.24,692.17 207.69,692.17 207.69,691.76 207.49,691.35 207.28,691.15 206.87,690.94 206.26,690.94 205.85,691.15 205.45,691.56 205.24,692.17 205.24,692.58 205.45,693.19 205.85,693.60 206.26,693.80 206.87,693.80 207.28,693.60 207.69,693.19"/><polyline points="210.05,687.62 216.98,687.62"/><polyline points="210.05,689.70 216.98,689.70"/><polyline points="221.98,683.12 220.83,683.50 220.06,684.66 219.67,686.58 219.67,687.74 220.06,689.66 220.83,690.82 221.98,691.20 222.75,691.20 223.91,690.82 224.68,689.66 225.06,687.74 225.06,686.58 224.68,684.66 223.91,683.50 222.75,683.12 221.98,683.12"/><polyline points="228.14,690.43 227.76,690.82 228.14,691.20 228.53,690.82 228.14,690.43"/><polyline points="231.61,685.04 231.61,684.66 231.99,683.88 232.38,683.50 233.15,683.12 234.69,683.12 235.46,683.50 235.84,683.88 236.23,684.66 236.23,685.43 235.84,686.20 235.07,687.35 231.22,691.20 236.61,691.20"/><polyline points="425.99,683.12 429.06,686.97 429.06,691.20"/><polyline points="432.15,683.12 429.06,686.97"/><polyline points="433.14,692.17 435.59,692.17 435.59,691.76 435.39,691.35 435.18,691.15 434.77,690.94 434.16,690.94 433.75,691.15 433.35,691.56 433.14,692.17 433.14,692.58 433.35,693.19 433.75,693.60 434.16,693.80 434.77,693.80 435.18,693.60 435.59,693.19"/><polyline points="437.95,687.62 444.88,687.62"/><polyline points="437.95,689.70 444.88,689.70"/><polyline points="449.88,683.12 448.73,683.50 447.96,684.66 447.57,686.58 447.57,687.74 447.96,689.66 448.73,690.82 449.88,691.20 450.65,691.20 451.81,690.82 452.58,689.66 452.96,687.74 452.96,686.58 452.58,684.66 451.81,683.50 450.65,683.12 449.88,683.12"/><polyline points="456.04,690.43 455.66,690.82 456.04,691.20 456.43,690.82 456.04,690.43"/><polyline points="459.89,683.12 464.13,683.12 461.82,686.20 462.97,686.20 463.74,686.58 464.13,686.97 464.51,688.12 464.51,688.89 464.13,690.05 463.36,690.82 462.20,691.20 461.05,691.20 459.89,690.82 459.51,690.43 459.12,689.66"/><polyline points="73.14,758.27 72.37,759.04 71.59,760.20 70.83,761.74 70.44,763.66 70.44,765.20 70.83,767.13 71.59,768.67 72.37,769.82 73.14,770.60"/><polyline points="80.07,763.66 79.30,762.89 78.53,762.51 77.37,762.51 76.60,762.89 75.83,763.66 75.45,764.82 75.45,765.59 75.83,766.75 76.60,767.51 77.37,767.90 78.53,767.90 79.30,767.51 80.07,766.75"/><polyline points="82.76,758.27 83.53,759.04 84.30,760.20 85.07,761.74 85.45,763.66 85.45,765.20 85.07,767.13 84.30,768.67 83.53,769.82 82.76,770.60"/><polyline points="301.63,758.27 300.86,759.04 300.09,760.20 299.32,761.74 298.94,763.66 298.94,765.20 299.32,767.13 300.09,768.67 300.86,769.82 301.63,770.60"/><polyline points="308.56,759.81 308.56,767.90"/><polyline points="308.56,763.66 307.79,762.89 307.02,762.51 305.87,762.51 305.10,762.89 304.33,763.66 303.94,764.82 303.94,765.59 304.33,766.75 305.10,767.51 305.87,767.90 307.02,767.90 307.79,767.51 308.56,766.75"/><polyline points="311.64,758.27 312.41,759.04 313.18,760.20 313.95,761.74 314.34,763.66 314.34,765.20 313.95,767.13 313.18,768.67 312.41,769.82 311.64,770.60"/><polyline points="88.18,817.12 88.18,825.20"/><polyline points="85.48,817.12 90.88,817.12"/><polyline points="92.80,821.62 99.73,821.62"/><polyline points="92.80,823.70 99.73,823.70"/><polyline points="103.58,818.66 104.35,818.27 105.50,817.12 105.50,825.20"/><polyline points="112.44,817.12 111.28,817.50 110.51,818.66 110.12,820.58 110.12,821.74 110.51,823.66 111.28,824.82 112.44,825.20 113.20,825.20 114.36,824.82 115.13,823.66 115.52,821.74 115.52,820.58 115.13,818.66 114.36,817.50 113.20,817.12 112.44,817.12"/><polyline points="123.22,825.20 123.22,817.12 126.30,825.20 129.38,817.12 129.38,825.20"/><polyline points="132.07,822.12 136.69,822.12 136.69,821.35 136.31,820.58 135.92,820.20 135.15,819.81 134.00,819.81 133.22,820.20 132.45,820.97 132.07,822.12 132.07,822.89 132.45,824.05 133.22,824.82 134.00,825.20 135.15,825.20 135.92,824.82 136.69,824.05"/><polyline points="138.61,817.12 141.69,825.20 144.77,817.12"/><polyline points="196.58,817.12 199.66,820.97 199.66,825.20"/><polyline points="202.74,817.12 199.66,820.97"/><polyline points="203.74,826.17 206.19,826.17 206.19,825.76 205.99,825.35 205.78,825.15 205.37,824.94 204.76,824.94 204.35,825.15 203.95,825.56 203.74,826.17 203.74,826.58 203.95,827.19 204.35,827.60 204.76,827.80 205.37,827.80 205.78,827.60 206.19,827.19"/><polyline points="208.55,821.62 215.48,821.62"/><polyline points="208.55,823.70 215.48,823.70"/><polyline points="220.48,817.12 219.33,817.50 218.56,818.66 218.17,820.58 218.17,821.74 218.56,823.66 219.33,824.82 220.48,825.20 221.25,825.20 222.41,824.82 223.18,823.66 223.56,821.74 223.56,820.58 223.18,818.66 222.41,817.50 221.25,817.12 220.48,817.12"/><polyline points="226.64,824.43 226.26,824.82 226.64,825.20 227.03,824.82 226.64,824.43"/><polyline points="230.11,819.04 230.11,818.66 230.49,817.88 230.88,817.50 231.65,817.12 233.19,817.12 233.96,817.50 234.34,817.88 234.73,818.66 234.73,819.43 234.34,820.20 233.57,821.35 229.72,825.20 235.11,825.20"/><polyline points="424.58,817.12 427.66,820.97 427.66,825.20"/><polyline points="430.75,817.12 427.66,820.97"/><polyline points="431.74,826.17 434.19,826.17 434.19,825.76 433.99,825.35 433.78,825.15 433.37,824.94 432.76,824.94 432.35,825.15 431.95,825.56 431.74,826.17 431.74,826.58 431.95,827.19 432.35,827.60 432.76,827.80 433.37,827.80 433.78,827.60 434.19,827.19"/><polyline points="436.55,821.62 443.48,821.62"/><polyline points="436.55,823.70 443.48,823.70"/><polyline points="448.48,817.12 447.33,817.50 446.56,818.66 446.17,820.58 446.17,821.74 446.56,823.66 447.33,824.82 448.48,825.20 449.25,825.20 450.41,824.82 451.18,823.66 451.56,821.74 451.56,820.58 451.18,818.66 450.41,817.50 449.25,817.12 448.48,817.12"/><polyline points="454.64,824.43 454.26,824.82 454.64,825.20 455.03,824.82 454.64,824.43"/><polyline points="458.49,817.12 462.73,817.12 460.42,820.20 461.57,820.20 462.34,820.58 462.73,820.97 463.11,822.12 463.11,822.89 462.73,824.05 461.96,824.82 460.80,825.20 459.65,825.20 458.49,824.82 458.11,824.43 457.72,823.66"/><polyline points="73.14,895.27 72.37,896.04 71.59,897.20 70.83,898.74 70.44,900.66 70.44,902.20 70.83,904.13 71.59,905.67 72.37,906.82 73.14,907.60"/><polyline points="75.45,901.82 80.07,901.82 80.07,901.05 79.68,900.28 79.30,899.89 78.53,899.51 77.37,899.51 76.60,899.89 75.83,900.66 75.45,901.82 75.45,902.59 75.83,903.75 76.60,904.51 77.37,904.90 78.53,904.90 79.30,904.51 80.07,903.75"/><polyline points="82.76,895.27 83.53,896.04 84.30,897.20 85.07,898.74 85.45,900.66 85.45,902.20 85.07,904.13 84.30,905.67 83.53,906.82 82.76,907.60"/><polyline points="301.63,895.27 300.86,896.04 300.09,897.20 299.32,898.74 298.94,900.66 298.94,902.20 299.32,904.13 300.09,905.67 300.86,906.82 301.63,907.60"/><polyline points="306.64,896.81 305.87,896.81 305.10,897.20 304.71,898.36 304.71,904.90"/><polyline points="303.56,899.51 306.25,899.51"/><polyline points="308.95,895.27 309.72,896.04 310.49,897.20 311.26,898.74 311.64,900.66 311.64,902.20 311.26,904.13 310.49,905.67 309.72,906.82 308.95,907.60"/></g>
</svg>
</body></html>
